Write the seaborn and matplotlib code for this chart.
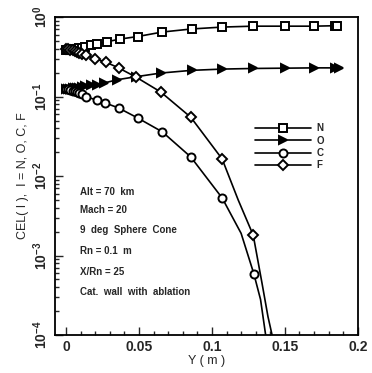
import numpy as np
import pandas as pd
import seaborn as sns
import matplotlib
matplotlib.use("Agg")
import matplotlib.pyplot as plt
from matplotlib.lines import Line2D
from matplotlib.ticker import LogLocator, MultipleLocator, LogFormatterMathtext, NullFormatter

sns.set_style("white")
plt.rcParams['font.family'] = ['Liberation Sans', 'DejaVu Sans']

# ---- data ----
n_x = [0, 0.0015, 0.003, 0.0045, 0.006, 0.0075, 0.009, 0.011, 0.013, 0.017, 0.021, 0.028, 0.037, 0.049,
       0.066, 0.086, 0.107, 0.128, 0.150, 0.170, 0.184, 0.186]
n_y = [0.39, 0.39, 0.39, 0.395, 0.40, 0.40, 0.405, 0.41, 0.42, 0.44, 0.46, 0.49, 0.53, 0.57,
       0.65, 0.71, 0.75, 0.77, 0.77, 0.77, 0.78, 0.78]

o_x = [0, 0.0015, 0.003, 0.0045, 0.006, 0.0075, 0.009, 0.011, 0.013, 0.017, 0.021, 0.026, 0.035, 0.048,
       0.065, 0.086, 0.107, 0.128, 0.150, 0.170, 0.184, 0.187]
o_y = [0.125, 0.125, 0.126, 0.127, 0.128, 0.129, 0.130, 0.132, 0.135, 0.138, 0.142, 0.148, 0.163, 0.178,
       0.198, 0.214, 0.222, 0.226, 0.228, 0.230, 0.230, 0.230]

c_x = [0, 0.0015, 0.003, 0.0045, 0.006, 0.0075, 0.009, 0.011, 0.014, 0.021, 0.027, 0.036, 0.049, 0.066,
       0.0855, 0.107, 0.120, 0.1287, 0.1333, 0.135, 0.1368, 0.138]
c_y = [0.125, 0.123, 0.121, 0.119, 0.117, 0.114, 0.111, 0.107, 0.100, 0.090, 0.083, 0.072, 0.054, 0.036,
       0.0174, 0.0053, 0.0019, 0.00059, 0.00028, 0.00017, 0.0001, 0.00007]
c_marks = [0, 1, 2, 3, 4, 5, 6, 7, 8, 9, 10, 11, 12, 13, 14, 15, 17]

f_x = [0, 0.0015, 0.003, 0.0045, 0.006, 0.0075, 0.009, 0.011, 0.014, 0.020, 0.0276, 0.036, 0.048, 0.065,
       0.0855, 0.107, 0.118, 0.1283, 0.1343, 0.1384, 0.1412, 0.142]
f_y = [0.40, 0.395, 0.39, 0.385, 0.375, 0.365, 0.355, 0.345, 0.33, 0.30, 0.27, 0.23, 0.176, 0.114,
       0.055, 0.0164, 0.005, 0.0018, 0.00045, 0.00017, 0.0001, 0.00008]
f_marks = [0, 1, 2, 3, 4, 5, 6, 7, 8, 9, 10, 11, 12, 13, 14, 15, 17]

species = ["N", "O", "C", "F"]
info_lines = ["Alt = 70  km", "Mach = 20", "9  deg  Sphere  Cone", "Rn = 0.1  m",
              "X/Rn = 25", "Cat.  wall  with  ablation"]

fig = plt.figure(figsize=(3.72, 3.73), dpi=100)
ax = fig.add_axes([0.148, 0.102, 0.814, 0.852])

ms = 5.8
lw = 1.2
mew = 1.4
common = dict(color="black", lw=lw, markeredgewidth=mew, ms=ms, ax=ax, sort=False)
sns.lineplot(x=n_x, y=n_y, marker="s", mfc="white", mec="black", **common)
sns.lineplot(x=o_x, y=o_y, marker=">", mfc="black", mec="black", **common)
sns.lineplot(x=c_x, y=c_y, marker="o", mfc="white", mec="black", markevery=c_marks, **common)
sns.lineplot(x=f_x, y=f_y, marker="D", mfc="white", mec="black", markevery=f_marks,
             color="black", lw=lw, markeredgewidth=mew, ms=ms - 1.2, ax=ax, sort=False)

ax.set_yscale("log")
ax.set_ylim(1e-4, 1)
ax.set_xlim(-0.0075, 0.2)
ax.xaxis.set_minor_locator(MultipleLocator(0.01))
ax.set_xticks([0, 0.05, 0.1, 0.15, 0.2])
ax.set_xticklabels(["0", "0.05", "0.1", "0.15", "0.2"])
ax.yaxis.set_major_locator(LogLocator(base=10, numticks=10))
ax.yaxis.set_minor_locator(LogLocator(base=10, subs=np.arange(2, 10), numticks=10))
ax.yaxis.set_major_formatter(LogFormatterMathtext())
ax.yaxis.set_minor_formatter(NullFormatter())

ax.tick_params(which="both", direction="in", top=False, right=False, left=True, bottom=True,
               labelsize=10, width=1.0)
ax.tick_params(which="major", length=6)
ax.tick_params(which="minor", length=3)
for lab in ax.get_yticklabels():
    lab.set_rotation(90)
    lab.set_va("center")
    lab.set_fontweight("bold")
for lab in ax.get_xticklabels():
    lab.set_fontweight("bold")

for s in ax.spines.values():
    s.set_color("black")
    s.set_linewidth(1.3)

ax.set_xlabel("Y ( m )", fontsize=9, labelpad=1)
ax.set_ylabel("CEL( I ),  I = N, O, C, F", fontsize=9, labelpad=2)

ys = [0.45, 0.393, 0.33, 0.264, 0.198, 0.135]
for t, yy in zip(info_lines, ys):
    ax.text(0.083, yy, t, transform=ax.transAxes, fontsize=7, fontweight="bold",
            va="center", ha="left")

handles = [
    Line2D([], [], color="black", lw=lw, marker="s", mfc="white", mec="black", ms=ms, mew=mew),
    Line2D([], [], color="black", lw=lw, marker=">", mfc="black", mec="black", ms=ms, mew=mew),
    Line2D([], [], color="black", lw=lw, marker="o", mfc="white", mec="black", ms=ms, mew=mew),
    Line2D([], [], color="black", lw=lw, marker="D", mfc="white", mec="black", ms=ms - 1.2, mew=mew),
]
leg = ax.legend(handles, species, loc="upper left", bbox_to_anchor=(0.645, 0.682),
                frameon=False, handlelength=5.7, handletextpad=0.6, labelspacing=0.25,
                prop=dict(size=7, weight="bold"), borderpad=0)

fig.savefig("out.png", dpi=100)
